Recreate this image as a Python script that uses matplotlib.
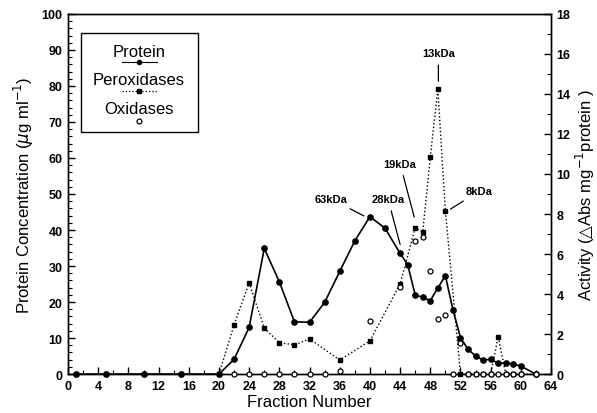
import numpy as np
import matplotlib
matplotlib.use("Agg")
import matplotlib.pyplot as plt
from matplotlib.ticker import MultipleLocator

plt.rcParams['font.family'] = ['Liberation Sans', 'DejaVu Sans']

# fraction number / protein concentration (ug/ml)
protein_x = [1, 5, 10, 15, 20, 22, 24, 26, 28, 30, 32, 34, 36, 38, 40, 42, 44, 45,
             46, 47, 48, 49, 50, 51, 52, 53, 54, 55, 56, 57, 58, 59, 60, 62]
protein_y = [0, 0, 0, 0, 0, 4.1, 13.0, 34.9, 25.6, 14.5, 14.4, 19.9, 28.5, 37.0, 43.7,
             40.5, 33.5, 30.4, 22.0, 21.3, 20.4, 23.9, 27.3, 17.9, 10.1, 6.9, 5.0,
             3.9, 4.1, 3.0, 3.1, 2.8, 2.2, 0]

# peroxidase activity
perox_x = [1, 5, 10, 15, 20, 22, 24, 26, 28, 30, 32, 36, 40, 44, 46, 47, 48, 49, 50,
           52, 53, 54, 55, 56, 57, 58, 59, 60, 62]
perox_y = [0, 0, 0, 0, 0, 2.46, 4.56, 2.3, 1.57, 1.46, 1.76, 0.7, 1.66, 4.5, 7.3,
           7.1, 10.84, 14.24, 8.15, 0, 0, 0, 0, 0, 1.87, 0, 0, 0, 0]

# oxidase activity
oxid_x = [22, 24, 26, 28, 30, 32, 34, 36, 40, 44, 46, 47, 48, 49, 50, 51, 52,
          53, 54, 55, 56, 57, 58, 59, 60, 62]
oxid_y = [0, 0, 0, 0, 0, 0, 0, 0.17, 2.66, 4.36, 6.65, 6.85, 5.17, 2.75, 2.96, 0,
          1.54, 0, 0, 0, 0, 0, 0, 0, 0, 0]

# molecular weight labels: text position and pointed position, in protein-axis units
mw_labels = ["13kDa", "19kDa", "8kDa", "28kDa", "63kDa"]
mw_text_xy = [(49.07, 89.1), (44.0, 58.4), (54.5, 50.8), (42.4, 48.6), (34.9, 48.6)]
mw_point_xy = [(49.07, 81.3), (45.87, 43.6), (50.67, 45.8), (44.0, 36.0), (39.2, 43.9)]

fig = plt.figure(figsize=(5.97, 4.14), dpi=100)
ax = fig.add_axes([0.114, 0.094, 0.809, 0.870])
ax2 = ax.twinx()

ax.plot(protein_x, protein_y, '-', color='black', lw=1.2, marker='o', ms=3.8,
        clip_on=False, zorder=3)
ax2.plot(perox_x, perox_y, ':', color='black', lw=1.0, marker='s', ms=3.2,
         clip_on=False, zorder=3)
ax2.plot(oxid_x, oxid_y, 'none', marker='o', ms=3.6, mfc='white', mec='black',
         mew=0.9, clip_on=False, zorder=4)

ax.set_xlim(0, 64)
ax.set_ylim(0, 100)
ax2.set_ylim(0, 18)

ax.xaxis.set_major_locator(MultipleLocator(4))
ax.xaxis.set_minor_locator(MultipleLocator(2))
ax.yaxis.set_major_locator(MultipleLocator(10))
ax.yaxis.set_minor_locator(MultipleLocator(2))
ax2.yaxis.set_major_locator(MultipleLocator(2))
ax2.yaxis.set_minor_locator(MultipleLocator(1))

ax.tick_params(which='both', direction='in', top=False, right=False)
ax.tick_params(which='major', length=5, width=1, labelsize=9, pad=4)
ax.tick_params(which='minor', length=3, width=0.8)
ax2.tick_params(which='both', direction='in')
ax2.tick_params(which='major', length=5, width=1, labelsize=9, pad=4)
ax2.tick_params(which='minor', length=3, width=0.8)
for lab in ax.get_xticklabels() + ax.get_yticklabels() + ax2.get_yticklabels():
    lab.set_fontweight('bold')

for a in (ax, ax2):
    for sp in a.spines.values():
        sp.set_linewidth(1.0)

ax.set_xlabel("Fraction Number", fontsize=12, labelpad=2)
ax.set_ylabel(r"Protein Concentration ($\mu$g ml$^{-1}$)", fontsize=12, labelpad=4)
ax2.set_ylabel(r"Activity ($\bigtriangleup$Abs mg$^{-1}$protein )", fontsize=12,
               labelpad=2)

for txt, txy, pxy in zip(mw_labels, mw_text_xy, mw_point_xy):
    ax.annotate(txt, xy=pxy, xytext=txy, fontsize=8, fontweight='bold',
                ha='center', va='center',
                arrowprops=dict(arrowstyle='-', lw=0.9, color='black',
                                shrinkA=3, shrinkB=0))

# legend drawn by hand: label above its sample
ax.add_patch(plt.Rectangle((0.027, 0.672), 0.242, 0.275, transform=ax.transAxes,
                           fill=False, lw=1.0, zorder=5))
ax.text(0.147, 0.897, "Protein", transform=ax.transAxes, ha='center', va='center',
        fontsize=12)
ax.plot([0.112, 0.184], [0.867, 0.867], '-', color='black', lw=0.8,
        transform=ax.transAxes)
ax.plot([0.147], [0.867], 'o', color='black', ms=3, transform=ax.transAxes)
ax.text(0.147, 0.817, "Peroxidases", transform=ax.transAxes, ha='center', va='center',
        fontsize=12)
ax.plot([0.112, 0.184], [0.786, 0.786], ':', color='black', lw=0.9,
        transform=ax.transAxes)
ax.plot([0.147], [0.786], 's', color='black', ms=3, transform=ax.transAxes)
ax.text(0.147, 0.736, "Oxidases", transform=ax.transAxes, ha='center', va='center',
        fontsize=12)
ax.plot([0.147], [0.703], 'o', mfc='white', mec='black', ms=3.5, mew=0.9,
        transform=ax.transAxes)

fig.savefig("out.png", dpi=100)
